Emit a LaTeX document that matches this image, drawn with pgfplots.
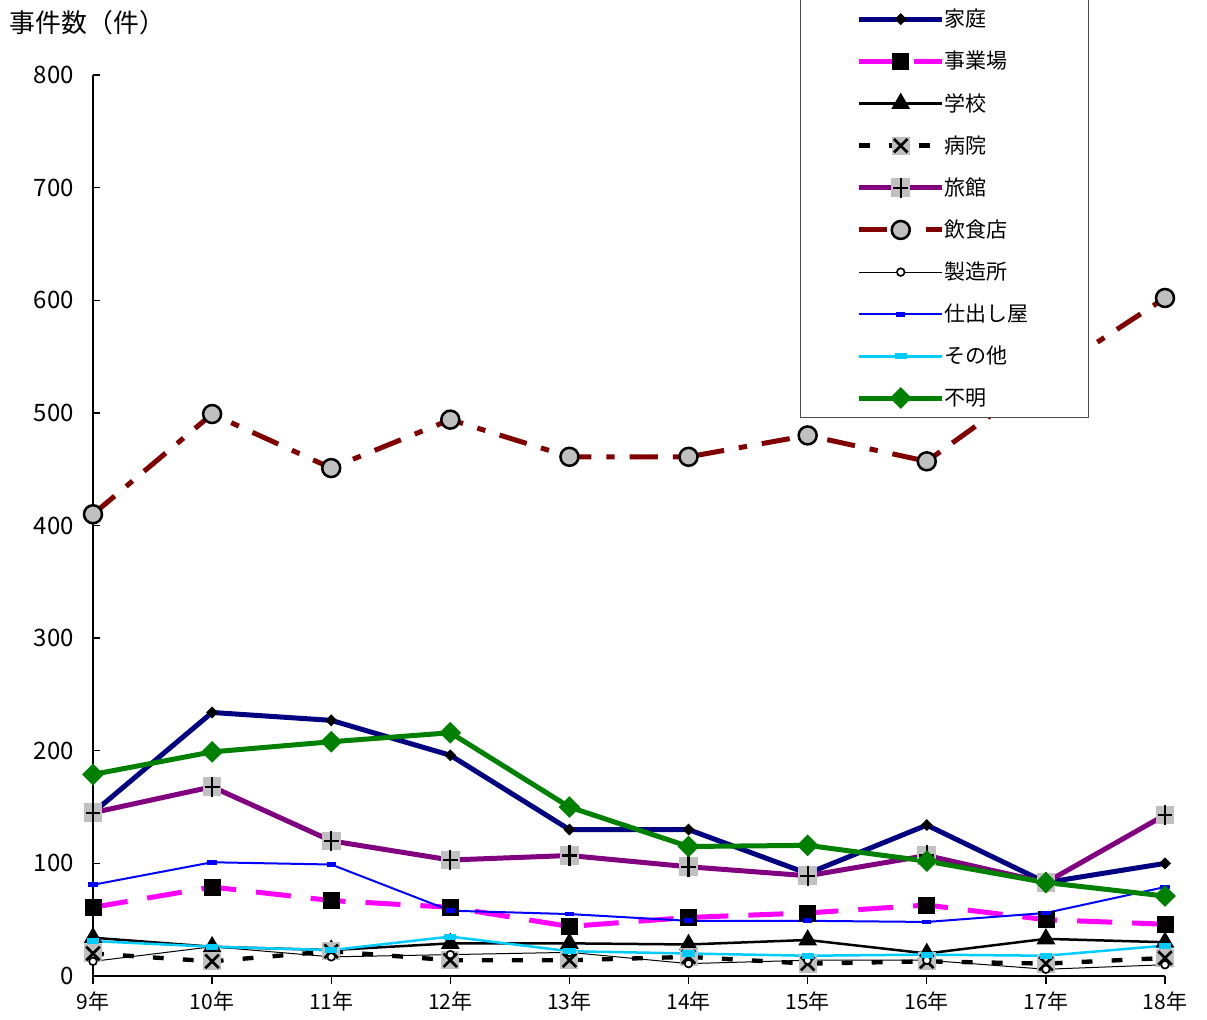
\documentclass[border=0pt]{standalone}
\usepackage{fontspec}
\setmainfont{Noto Sans CJK JP}
\usepackage{pgfplots}
\pgfplotsset{compat=1.18}
\definecolor{cnavy}{RGB}{0,0,128}
\definecolor{cmag}{RGB}{255,0,255}
\definecolor{cpurple}{RGB}{128,0,128}
\definecolor{cbrown}{RGB}{128,0,0}
\definecolor{cblue}{RGB}{0,0,255}
\definecolor{ccyan}{RGB}{0,204,255}
\definecolor{cgreen}{RGB}{0,128,0}
\definecolor{mgray}{RGB}{192,192,192}
\pgfdeclareplotmark{sqx}{%
  \begin{pgfscope}\pgfsetfillcolor{mgray}%
  \pgfpathrectangle{\pgfqpoint{-\pgfplotmarksize}{-\pgfplotmarksize}}{\pgfqpoint{2\pgfplotmarksize}{2\pgfplotmarksize}}%
  \pgfusepath{fill}\end{pgfscope}%
  \pgfsetstrokecolor{black}\pgfsetlinewidth{1.6pt}%
  \pgfpathmoveto{\pgfqpoint{-.75\pgfplotmarksize}{-.75\pgfplotmarksize}}%
  \pgfpathlineto{\pgfqpoint{.75\pgfplotmarksize}{.75\pgfplotmarksize}}%
  \pgfpathmoveto{\pgfqpoint{-.75\pgfplotmarksize}{.75\pgfplotmarksize}}%
  \pgfpathlineto{\pgfqpoint{.75\pgfplotmarksize}{-.75\pgfplotmarksize}}%
  \pgfusepath{stroke}}
\pgfdeclareplotmark{sqplus}{%
  \begin{pgfscope}\pgfsetfillcolor{mgray}%
  \pgfpathrectangle{\pgfqpoint{-\pgfplotmarksize}{-\pgfplotmarksize}}{\pgfqpoint{2\pgfplotmarksize}{2\pgfplotmarksize}}%
  \pgfusepath{fill}\end{pgfscope}%
  \pgfsetstrokecolor{black}\pgfsetlinewidth{1.3pt}%
  \pgfpathmoveto{\pgfqpoint{0pt}{-1.1\pgfplotmarksize}}%
  \pgfpathlineto{\pgfqpoint{0pt}{1.1\pgfplotmarksize}}%
  \pgfpathmoveto{\pgfqpoint{-.8\pgfplotmarksize}{0pt}}%
  \pgfpathlineto{\pgfqpoint{.8\pgfplotmarksize}{0pt}}%
  \pgfusepath{stroke}}
\pgfdeclareplotmark{hbar}{%
  \pgfpathrectangle{\pgfqpoint{-1.4\pgfplotmarksize}{-.7\pgfplotmarksize}}{\pgfqpoint{2.8\pgfplotmarksize}{1.4\pgfplotmarksize}}%
  \pgfusepath{fill}}
\begin{document}
\begin{tikzpicture}
\useasboundingbox (-55.8pt,-25.8pt) rectangle (668.4pt,585.6pt);
\begin{axis}[
  at={(0pt,0pt)}, anchor=south west,
  scale only axis, width=643.2pt, height=540.6pt,
  xmin=0, xmax=9, ymin=0, ymax=800,
  axis x line=bottom, axis y line=left,
  axis line style={-, line width=0.8pt, black},
  xtick={0,...,9},
  xticklabels={9年,10年,11年,12年,13年,14年,15年,16年,17年,18年},
  ytick={0,100,...,800},
  tick align=inside, major tick length=4.5pt,
  tick style={black, line width=0.8pt},
  x tick style={yshift=-4.5pt},
  /pgf/number format/assume math mode=true,
  yticklabel style={font=\fontsize{14.4}{16}\selectfont, xshift=-8pt},
  xticklabel style={font=\fontsize{12.6}{14}\selectfont, yshift=-6pt},
  clip=false,
  legend cell align=left,
  legend image code/.code={\draw[mark repeat=2,mark phase=2] plot coordinates {(0pt,0pt) (25pt,0pt) (50pt,0pt)};},
  legend style={at={(0.929,0.619)}, anchor=south east, draw=black!70, line width=0.8pt,
    fill=white, inner xsep=33.6pt, inner ysep=4pt, row sep=9.2pt,
    font=\fontsize{12.6}{15}\selectfont,
    /tikz/every odd column/.append style={column sep=-2pt}},
]
\addplot[cnavy, line width=3pt, mark=diamond*, mark size=3.2pt, mark options={black, solid, line width=0.5pt, xscale=1.33}]
  coordinates {(0,145) (1,234) (2,227) (3,196) (4,130) (5,130) (6,91) (7,134) (8,83) (9,100)};
\addlegendentry{家庭}
\addplot[cmag, line width=3pt, dash pattern=on 21pt off 12pt, mark=square*, mark size=4.8pt, mark options={black, solid, line width=0.4pt}]
  coordinates {(0,61) (1,79) (2,67) (3,61) (4,44) (5,52) (6,56) (7,63) (8,50) (9,46)};
\addlegendentry{事業場}
\addplot[black, line width=1.5pt, mark=triangle*, mark size=5pt, mark options={black, solid}]
  coordinates {(0,34) (1,26) (2,23) (3,29) (4,29) (5,28) (6,32) (7,20) (8,33) (9,30)};
\addlegendentry{学校}
\addplot[black, line width=2.6pt, dash pattern=on 6.5pt off 11.5pt, mark=sqx, mark size=5.4pt, mark options={solid}]
  coordinates {(0,20) (1,13) (2,22) (3,14) (4,14) (5,17) (6,11) (7,13) (8,11) (9,16)};
\addlegendentry{病院}
\addplot[cpurple, line width=3pt, mark=sqplus, mark size=5.6pt, mark options={solid}]
  coordinates {(0,145) (1,168) (2,120) (3,103) (4,107) (5,97) (6,89) (7,107) (8,83) (9,143)};
\addlegendentry{旅館}
\addplot[cbrown, line width=3pt, dash pattern=on 17pt off 9pt on 5pt off 9pt, mark=*, mark size=5.4pt, mark options={solid, draw=black, fill=mgray, line width=1.5pt}]
  coordinates {(0,410) (1,499) (2,451) (3,494) (4,461) (5,461) (6,480) (7,457) (8,533) (9,602)};
\addlegendentry{飲食店}
\addplot[black, line width=0.6pt, mark=*, mark size=2.3pt, mark options={solid, draw=black, fill=white, line width=1pt}]
  coordinates {(0,13) (1,26) (2,17) (3,19) (4,21) (5,11) (6,14) (7,14) (8,6) (9,10)};
\addlegendentry{製造所}
\addplot[cblue, line width=1.2pt, mark=hbar, mark size=2pt, mark options={solid, fill=cblue}]
  coordinates {(0,81) (1,101) (2,99) (3,58) (4,55) (5,49) (6,49) (7,48) (8,56) (9,79)};
\addlegendentry{仕出し屋}
\addplot[ccyan, line width=1.5pt, mark=hbar, mark size=2.6pt, mark options={solid, fill=ccyan}]
  coordinates {(0,31) (1,26) (2,23) (3,35) (4,22) (5,20) (6,18) (7,19) (8,18) (9,27)};
\addlegendentry{その他}
\addplot[cgreen, line width=3pt, mark=diamond*, mark size=4.4pt, mark options={cgreen, solid, xscale=1.33}]
  coordinates {(0,179) (1,199) (2,208) (3,216) (4,150) (5,115) (6,116) (7,102) (8,83) (9,71)};
\addlegendentry{不明}
\end{axis}
\node[anchor=west, font=\fontsize{15.5}{17}\selectfont, inner sep=0pt] at (-50pt,572pt) {事件数（件）};
\end{tikzpicture}
\end{document}
